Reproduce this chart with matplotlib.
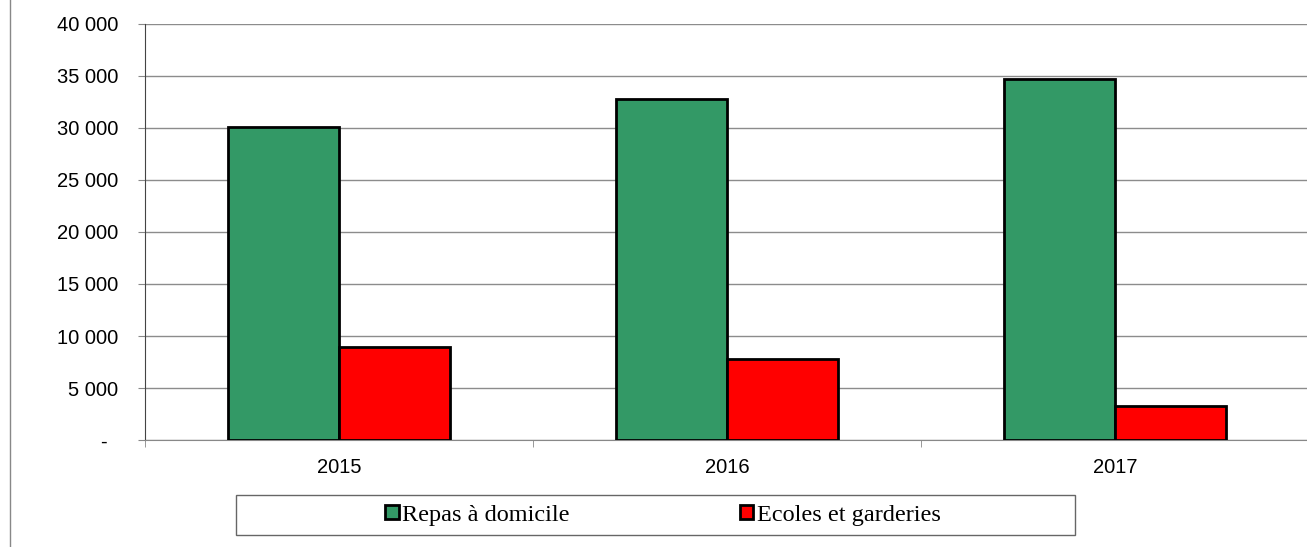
import matplotlib.pyplot as plt
from matplotlib.lines import Line2D
from matplotlib.patches import Rectangle
from matplotlib.ticker import FuncFormatter
import numpy as np

years = ["2015", "2016", "2017"]
repas_domicile = [30100, 32750, 34750]
ecoles_garderies = [8900, 7800, 3300]

plt.rcParams['font.family'] = ['Liberation Sans', 'DejaVu Sans']

fig = plt.figure(figsize=(13.07, 5.47), dpi=100)
ax = fig.add_axes([145 / 1307, 1 - 440 / 547, 1164 / 1307, 416 / 547])

x = np.arange(len(years))
w = 0.286
ax.bar(x - w / 2, repas_domicile, w, color="#339966", edgecolor="black",
       linewidth=2, label="Repas à domicile", zorder=3)
ax.bar(x + w / 2, ecoles_garderies, w, color="#FF0000", edgecolor="black",
       linewidth=2, label="Ecoles et garderies", zorder=3)

ax.set_xlim(-0.5, 2.5)
ax.set_ylim(0, 40000)
ax.set_yticks(range(0, 40001, 5000))


def fmt(v, pos):
    if v == 0:
        return "-  "
    return "{:,.0f}".format(v).replace(",", " ")


ax.yaxis.set_major_formatter(FuncFormatter(fmt))
ax.yaxis.grid(True, color="#8c8c8c", linewidth=1, zorder=0)

ax.set_xticks(x)
ax.set_xticklabels(years)
ax.set_xticks(np.arange(-0.5, 3.0, 1.0), minor=True)
ax.tick_params(axis="x", which="major", length=0, pad=13, labelsize=14.5)
ax.tick_params(axis="x", which="minor", length=5, color="#888888", direction="out")
ax.tick_params(axis="y", length=5, color="#888888", labelsize=14.5, pad=14)

for s in ["top", "right"]:
    ax.spines[s].set_visible(False)
ax.spines["left"].set_color("#444444")
ax.spines["bottom"].set_color("#888888")

fig.add_artist(Line2D([10 / 1307, 10 / 1307], [0, 1], color="#888888", linewidth=1))

# legend box drawn separately, entries centred inside it
fig.add_artist(Rectangle((236 / 1307, 12 / 547), 839 / 1307, 40 / 547,
                         transform=fig.transFigure, fill=False,
                         edgecolor="#666666", linewidth=1))
leg = fig.legend(loc="center", bbox_to_anchor=(663 / 1307, 32 / 547),
                 ncol=2, frameon=False,
                 prop={"family": "Liberation Serif", "size": 17.5},
                 handlelength=0.55, handleheight=0.55, handletextpad=0.15,
                 columnspacing=7.0)

fig.savefig("out.png", dpi=100)
